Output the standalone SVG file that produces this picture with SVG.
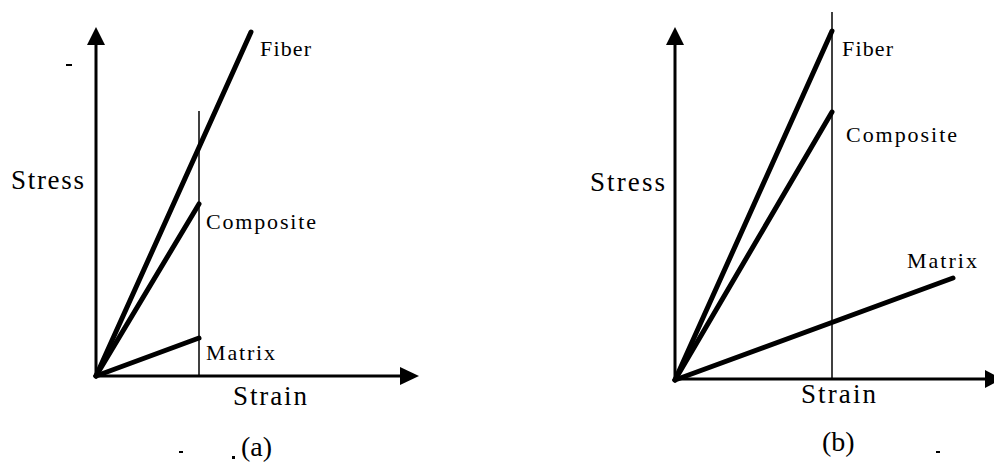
<svg xmlns="http://www.w3.org/2000/svg" width="994" height="463" viewBox="0 0 994 463">
<style>
.axis{stroke:#000;stroke-width:3;fill:none}
.curve{stroke:#000;stroke-width:5;fill:none;stroke-linecap:round}
.guide{stroke:#000;stroke-width:1.5;fill:none}
.head{fill:#000}
text{font-family:"Liberation Serif","Times New Roman",serif;fill:#000}
.lbl{font-size:22px}
.ax{font-size:27px}
.cap{font-size:28px}
.speck{fill:#000}
</style>
<rect width="994" height="463" fill="#fff"/>
<g id="panel-a">
  <g id="a-axes">
    <line class="axis" x1="96" y1="376" x2="96" y2="44"/>
    <polygon class="head" points="96,27 87,45 105,45"/>
    <line class="axis" x1="96" y1="376" x2="402" y2="376"/>
    <polygon class="head" points="419,376 400,367 400,385"/>
  </g>
  <g id="a-connectors">
    <line class="guide" x1="199" y1="111" x2="199" y2="376"/>
    <line class="curve" x1="96" y1="376" x2="251" y2="32"/>
    <line class="curve" x1="96" y1="376" x2="199" y2="204"/>
    <line class="curve" x1="96" y1="376" x2="199" y2="338"/>
  </g>
  <g id="a-fiber"><text class="lbl" x="260" y="56" textLength="51" lengthAdjust="spacing">Fiber</text></g>
  <g id="a-composite"><text class="lbl" x="206" y="229" textLength="110" lengthAdjust="spacing">Composite</text></g>
  <g id="a-matrix"><text class="lbl" x="206" y="360" textLength="69" lengthAdjust="spacing">Matrix</text></g>
  <g id="a-stress"><text class="ax" x="11" y="189" textLength="73" lengthAdjust="spacing">Stress</text></g>
  <g id="a-strain"><text class="ax" x="233" y="405" textLength="74" lengthAdjust="spacing">Strain</text></g>
  <g id="a-caption"><text class="cap" x="241" y="456">(a)</text></g>
  <rect class="speck" x="66" y="64" width="6" height="2"/>
  <rect class="speck" x="179" y="451" width="4" height="2"/>
  <rect class="speck" x="232" y="456" width="3" height="3"/>
</g>
<g id="panel-b">
  <g id="b-axes">
    <line class="axis" x1="675" y1="380" x2="675" y2="44"/>
    <polygon class="head" points="675,27 666,45 684,45"/>
    <line class="axis" x1="675" y1="379" x2="987" y2="379"/>
    <polygon class="head" points="1002,379 985,370 985,388"/>
  </g>
  <g id="b-connectors">
    <line class="guide" x1="832" y1="12" x2="832" y2="380"/>
    <line class="curve" x1="675" y1="380" x2="832" y2="31"/>
    <line class="curve" x1="675" y1="380" x2="832" y2="112"/>
    <line class="curve" x1="675" y1="380" x2="953" y2="278"/>
  </g>
  <g id="b-fiber"><text class="lbl" x="842" y="56" textLength="51" lengthAdjust="spacing">Fiber</text></g>
  <g id="b-composite"><text class="lbl" x="846" y="142" textLength="111" lengthAdjust="spacing">Composite</text></g>
  <g id="b-matrix"><text class="lbl" x="907" y="268" textLength="70" lengthAdjust="spacing">Matrix</text></g>
  <g id="b-stress"><text class="ax" x="590" y="191" textLength="75" lengthAdjust="spacing">Stress</text></g>
  <g id="b-strain"><text class="ax" x="801" y="403" textLength="75" lengthAdjust="spacing">Strain</text></g>
  <g id="b-caption"><text class="cap" x="822" y="451">(b)</text></g>
  <rect class="speck" x="936" y="451" width="4" height="2"/>
</g>
</svg>
